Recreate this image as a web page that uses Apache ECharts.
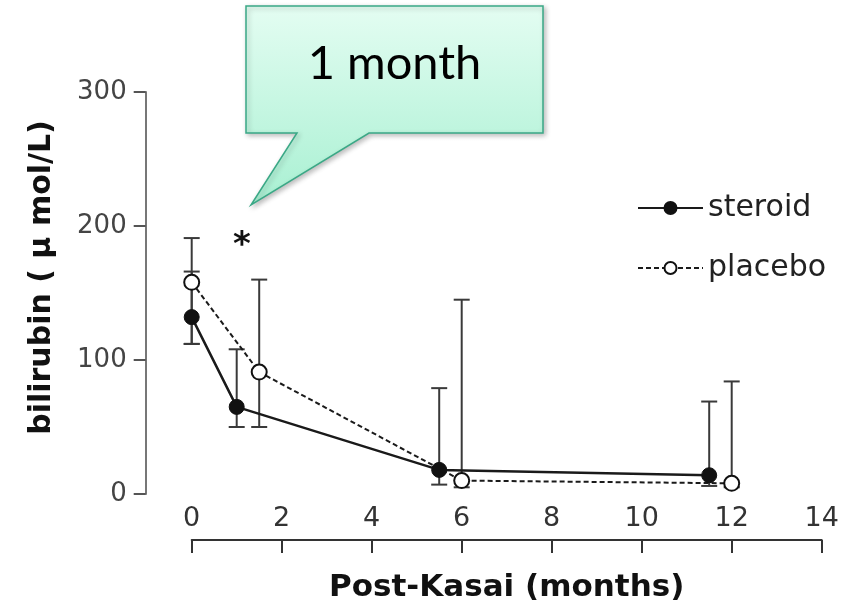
<!DOCTYPE html>
<html>
<head>
<meta charset="utf-8">
<script src="https://cdn.jsdelivr.net/npm/echarts@6/dist/echarts.min.js"></script>
<style>
  html, body { margin: 0; padding: 0; background: #fff; }
  #chart { width: 851px; height: 613px; }
</style>
</head>
<body>
<div id="chart"></div>
<script>
// Serum bilirubin after Kasai portoenterostomy: median with range bars
const xTicks = [0, 2, 4, 6, 8, 10, 12, 14];
const yTicks = [0, 100, 200, 300];

const steroidMonths = [0, 1, 5.5, 11.5];
const steroidMedian = [132, 65, 18, 14];
const steroidLow    = [112, 50, 7, 6];
const steroidHigh   = [166, 108, 79, 69];

const placeboMonths = [0, 1.5, 6, 12];
const placeboMedian = [158, 91, 10, 8];
const placeboLow    = [112, 50, 5, 5];
const placeboHigh   = [191, 160, 145, 84];

const zip = (a, b) => a.map((v, i) => [v, b[i]]);
const zip3 = (a, b, c) => a.map((v, i) => [v, b[i], c[i]]);

function renderRange(params, api) {
  const x = api.value(0);
  const top = api.coord([x, api.value(2)]);
  const bot = api.coord([x, api.value(1)]);
  const half = 8;
  const style = { stroke: '#3a3a3a', lineWidth: 2, fill: null };
  return {
    type: 'group',
    children: [
      { type: 'line', shape: { x1: top[0], y1: top[1], x2: bot[0], y2: bot[1] }, style },
      { type: 'line', shape: { x1: top[0] - half, y1: top[1], x2: top[0] + half, y2: top[1] }, style },
      { type: 'line', shape: { x1: bot[0] - half, y1: bot[1], x2: bot[0] + half, y2: bot[1] }, style }
    ]
  };
}

const chart = echarts.init(document.getElementById('chart'));
chart.setOption({
  animation: false,
  backgroundColor: '#fff',
  grid: { left: 191.7, right: 29.3, top: 92, bottom: 119 },
  xAxis: {
    type: 'value',
    min: xTicks[0],
    max: xTicks[xTicks.length - 1],
    interval: xTicks[1] - xTicks[0],
    offset: 46,
    splitLine: { show: false },
    axisLine: { onZero: false, lineStyle: { color: '#333', width: 2 } },
    axisTick: { length: 13, lineStyle: { color: '#333', width: 2 } },
    axisLabel: { inside: true, margin: 8, fontSize: 27, color: '#333', fontFamily: 'DejaVu Sans' },
    name: 'Post-Kasai (months)',
    nameLocation: 'middle',
    nameGap: 32,
    nameTextStyle: { fontSize: 31, fontWeight: 'bold', color: '#111', fontFamily: 'DejaVu Sans' }
  },
  yAxis: {
    type: 'value',
    min: yTicks[0],
    max: yTicks[yTicks.length - 1],
    interval: yTicks[1] - yTicks[0],
    offset: 46,
    splitLine: { show: false },
    axisLine: { show: true, onZero: false, lineStyle: { color: '#777', width: 2 } },
    axisTick: { show: true, length: 12, lineStyle: { color: '#555', width: 2 } },
    axisLabel: { margin: 19, fontSize: 26, color: '#444', fontFamily: 'DejaVu Sans' },
    name: 'bilirubin ( µ mol/L)',
    nameLocation: 'middle',
    nameGap: 88,
    nameTextStyle: { fontSize: 30, fontWeight: 'bold', color: '#111', fontFamily: 'DejaVu Sans', padding: [0, 0, 0, 31] }
  },
  legend: {
    data: ['steroid', 'placebo'],
    orient: 'vertical',
    left: 632,
    top: 188,
    itemWidth: 65,
    itemHeight: 15,
    itemGap: 30,
    textStyle: { fontSize: 30, color: '#222', fontFamily: 'DejaVu Sans' }
  },
  series: [
    {
      name: 'steroid range',
      type: 'custom',
      renderItem: renderRange,
      encode: { x: 0, y: [1, 2] },
      data: zip3(steroidMonths, steroidLow, steroidHigh),
      z: 1
    },
    {
      name: 'placebo range',
      type: 'custom',
      renderItem: renderRange,
      encode: { x: 0, y: [1, 2] },
      data: zip3(placeboMonths, placeboLow, placeboHigh),
      z: 1
    },
    {
      name: 'steroid',
      type: 'line',
      data: zip(steroidMonths, steroidMedian),
      symbol: 'circle',
      symbolSize: 15,
      lineStyle: { color: '#1a1a1a', width: 2.5 },
      itemStyle: { color: '#111', borderColor: '#111', borderWidth: 1 },
      z: 3
    },
    {
      name: 'placebo',
      type: 'line',
      data: zip(placeboMonths, placeboMedian),
      symbol: 'circle',
      symbolSize: 15,
      lineStyle: { color: '#1a1a1a', width: 2, type: [5, 3] },
      itemStyle: { color: '#fff', borderColor: '#111', borderWidth: 2 },
      z: 3
    }
  ],
  graphic: [
    {
      type: 'polygon',
      shape: { points: [[246, 6], [543, 6], [543, 133], [369, 133], [251, 205], [297, 133], [246, 133]] },
      style: {
        fill: new echarts.graphic.LinearGradient(0, 0, 0, 1, [
          { offset: 0, color: '#e4fdf2' },
          { offset: 1, color: '#a8f0d2' }
        ]),
        stroke: '#3aa886',
        lineWidth: 1.5,
        shadowBlur: 5,
        shadowOffsetX: 2,
        shadowOffsetY: 2,
        shadowColor: 'rgba(0,0,0,0.25)'
      },
      z: 10
    },
    {
      type: 'text',
      x: 394.5,
      y: 64,
      style: { text: '1 month', fontSize: 47, fontFamily: 'Lato', fill: '#000', align: 'center', verticalAlign: 'middle' },
      z: 11
    },
    {
      type: 'text',
      x: 242,
      y: 246,
      style: { text: '*', fontSize: 34, fontFamily: 'DejaVu Sans', fontWeight: 'bold', fill: '#111', align: 'center', verticalAlign: 'middle' },
      z: 11
    }
  ]
});
</script>
</body>
</html>
